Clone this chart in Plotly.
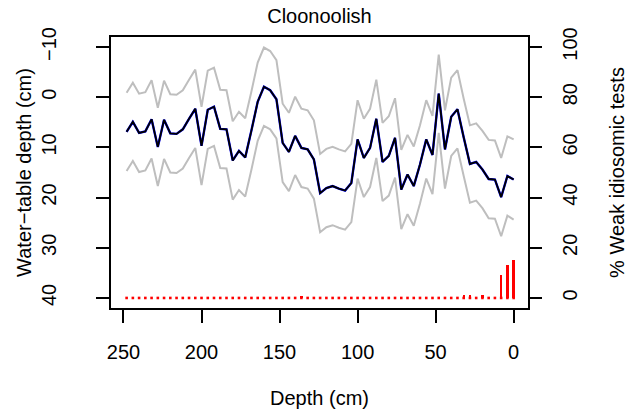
import plotly.graph_objects as go

# Depth of each sample (cm), top of core = 0
depth = [248, 244, 240, 236, 232, 228, 224, 220, 216, 212, 208, 204, 200, 196, 192,
         188, 184, 180, 176, 172, 168, 164, 160, 156, 152, 148, 144, 140, 136, 132,
         128, 124, 120, 116, 112, 108, 104, 100, 96, 92, 88, 84, 80, 76, 72,
         68, 64, 60, 56, 52, 48, 44, 40, 36, 32, 28, 24, 20, 16, 12,
         8, 4, 0]

# Reconstructed water-table depth (cm)
wtd = [6.9, 4.9, 7.1, 6.8, 4.4, 9.9, 4.5, 7.2, 7.3, 6.4, 4.3, 2.3, 9.7, 2.5, 1.9,
       6.3, 6.4, 12.6, 10.7, 12.0, 6.6, 0.9, -2.1, -1.4, 0.4, 9.1, 10.9, 7.7, 10.1, 10.4,
       12.4, 19.1, 18.1, 17.7, 18.2, 18.6, 17.1, 8.4, 12.1, 10.1, 4.3, 12.9, 11.7, 8.1, 18.4,
       15.4, 17.7, 13.4, 8.4, 11.5, -0.7, 10.4, 3.9, 2.4, 8.0, 13.3, 12.9, 14.4, 16.3, 16.4,
       19.9, 15.7, 16.4]

# Sample-specific error (cm)
err = [7.8, 7.8, 7.8, 7.8, 7.8, 7.8, 7.8, 7.8, 7.8, 7.8, 7.8, 7.8, 7.8, 7.8, 7.8,
       7.8, 7.8, 7.8, 7.8, 7.8, 7.8, 7.8, 7.8, 7.8, 7.8, 7.8, 7.8, 7.8, 7.8, 7.8,
       7.8, 7.8, 7.8, 7.8, 7.8, 7.8, 7.8, 7.8, 7.8, 7.8, 7.8, 7.8, 7.9, 7.9, 7.9,
       7.9, 7.9, 7.8, 7.8, 7.8, 7.8, 7.8, 7.8, 7.8, 7.7, 7.7, 7.7, 7.7, 7.8, 7.8,
       7.8, 7.9, 8.0]

# % weak idiosomic tests
weak = [0, 0, 0, 0, 0, 0, 0, 0, 0, 0, 0, 0, 0, 0, 0,
        0, 0, 0, 0, 0, 0, 0, 0, 0, 0, 0, 0, 0, 0.8, 0,
        0, 0, 0, 0, 0, 0, 0, 0, 0, 0, 0, 0, 0, 0, 0,
        0, 0, 0, 0, 0, 0, 0, 0, 0, 1.2, 1.2, 0, 1.2, 0, 0,
        9.3, 13.1, 15.1]

x_ticks = [0, 50, 100, 150, 200, 250]
y_ticks = [-10, 0, 10, 20, 30, 40]
y2_ticks = [0, 20, 40, 60, 80, 100]

upper = [w - e for w, e in zip(wtd, err)]
lower = [w + e for w, e in zip(wtd, err)]

FONT = "Liberation Sans, Arial, Helvetica, sans-serif"
FS = 20
GREY = "#BEBEBE"

fig = go.Figure()

fig.add_trace(go.Bar(x=depth, y=weak, yaxis="y2", width=1.5,
                     marker=dict(color="red", line=dict(width=0)),
                     name="% weak", showlegend=False))
fig.add_trace(go.Scatter(x=depth, y=[0] * len(depth), yaxis="y2", mode="markers",
                         marker=dict(symbol="square", size=2.6, color="red",
                                     line=dict(width=0)),
                         showlegend=False, hoverinfo="skip"))

fig.add_trace(go.Scatter(x=depth, y=upper, mode="lines",
                         line=dict(color=GREY, width=2), showlegend=False))
fig.add_trace(go.Scatter(x=depth, y=lower, mode="lines",
                         line=dict(color=GREY, width=2), showlegend=False))
fig.add_trace(go.Scatter(x=depth, y=wtd, mode="lines",
                         line=dict(color="blue", width=2.4), showlegend=False))
fig.add_trace(go.Scatter(x=depth, y=wtd, mode="lines",
                         line=dict(color="black", width=1.8), showlegend=False))

axis_common = dict(showgrid=False, zeroline=False, ticks="outside", ticklen=13,
                   tickwidth=1.6, tickcolor="black", linecolor="black",
                   linewidth=1.6, tickfont=dict(family=FONT, size=FS, color="black"))

fig.update_layout(
    width=643, height=417,
    margin=dict(l=111, r=115, t=37, b=109, autoexpand=False),
    paper_bgcolor="white", plot_bgcolor="white",
    font=dict(family=FONT, size=FS, color="black"),
    bargap=0,
    title=dict(text="Cloonoolish", x=0.5, xref="paper", y=1 - 16 / 417,
               yanchor="middle", yref="container",
               font=dict(family=FONT, size=FS, color="black")),
    xaxis=dict(range=[258, -9.2], tickvals=x_ticks, ticktext=[str(v) for v in x_ticks],
               showline=True, mirror=True, ticklabelstandoff=12,
               title=dict(text="Depth (cm)", standoff=29,
                          font=dict(family=FONT, size=FS)),
               **axis_common),
    yaxis=dict(range=[42, -12], tickvals=y_ticks,
               ticktext=[("\u2212" + str(-v)) if v < 0 else str(v) for v in y_ticks],
               tickangle=-90, showline=True, mirror=True, ticklabelstandoff=32,
               title=dict(text="Water\u2212table depth (cm)", standoff=1,
                          font=dict(family=FONT, size=FS)),
               **axis_common),
    yaxis2=dict(range=[-4, 104], tickvals=y2_ticks, ticktext=[str(v) for v in y2_ticks],
                overlaying="y", side="right", tickangle=-90, showline=False,
                ticklabelstandoff=11,
                title=dict(text="% Weak idiosomic tests", standoff=29,
                           font=dict(family=FONT, size=FS)),
                **axis_common),
)

fig.write_html("out.html")
